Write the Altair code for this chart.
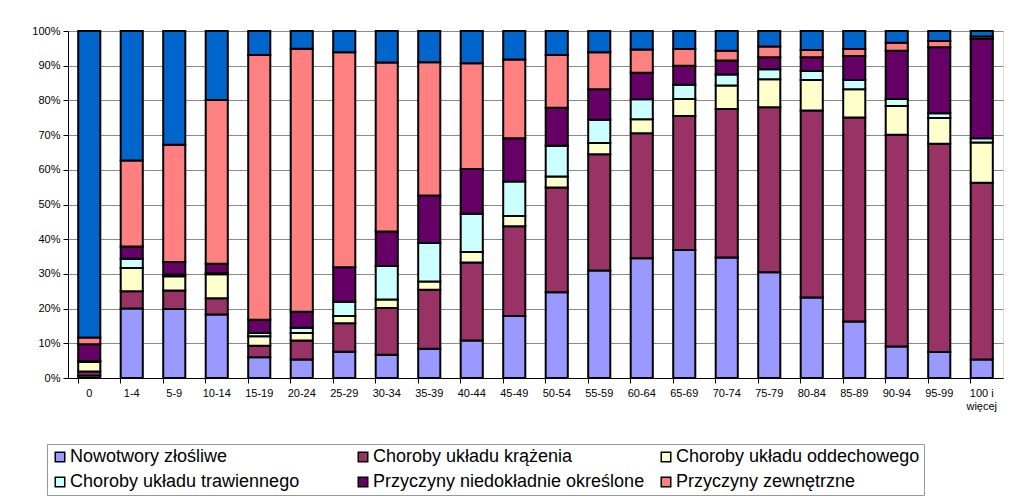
import altair as alt
import pandas as pd

categories = ["0", "1-4", "5-9", "10-14", "15-19", "20-24", "25-29", "30-34", "35-39",
              "40-44", "45-49", "50-54", "55-59", "60-64", "65-69", "70-74", "75-79",
              "80-84", "85-89", "90-94", "95-99", "100 i więcej"]

series = ["Nowotwory złośliwe", "Choroby układu krążenia", "Choroby układu oddechowego",
          "Choroby układu trawiennego", "Przyczyny niedokładnie określone",
          "Przyczyny zewnętrzne", "Pozostałe przyczyny"]

colors = ["#9999FF", "#993366", "#FFFFCC", "#CCFFFF", "#660066", "#FF8080", "#0066CC"]

# legend entries, listed so that the 3-column grid reads row by row like the original
legend_entries = ["Nowotwory złośliwe", "Choroby układu trawiennego",
                  "Choroby układu krążenia", "Przyczyny niedokładnie określone",
                  "Choroby układu oddechowego", "Przyczyny zewnętrzne"]

nowotwory = [0.7, 20.0, 19.9, 18.3, 6.0, 5.3, 7.6, 6.7, 8.4, 10.8, 17.9, 24.7, 31.0, 34.5,
             36.9, 34.7, 30.5, 23.2, 16.3, 9.1, 7.5, 5.3]
krazenia = [1.2, 5.0, 5.3, 4.7, 3.3, 5.5, 8.2, 13.5, 17.0, 22.5, 25.8, 30.2, 33.5, 36.0,
            38.6, 42.8, 47.5, 53.9, 58.8, 61.0, 60.0, 51.0]
oddechowy = [2.7, 6.7, 4.1, 6.9, 2.7, 2.2, 2.1, 2.4, 2.4, 3.0, 3.0, 3.2, 3.2, 4.1,
             4.9, 6.8, 8.1, 8.8, 8.1, 8.3, 7.4, 11.6]
trawienny = [0.3, 2.7, 0.5, 0.3, 1.0, 1.5, 4.1, 9.7, 11.1, 11.0, 9.9, 8.8, 6.7, 5.7,
             4.1, 3.2, 2.9, 2.6, 2.7, 2.0, 1.4, 1.2]
niedokladne = [4.8, 3.5, 3.6, 2.7, 3.8, 4.6, 9.9, 9.9, 13.7, 12.9, 12.5, 11.0, 8.8, 7.7,
               5.5, 4.0, 3.4, 3.9, 6.9, 13.9, 19.0, 28.6]
zewnetrzne = [2.0, 24.8, 33.8, 47.2, 76.3, 75.8, 62.0, 48.7, 38.4, 30.5, 22.7, 15.2, 10.7, 6.7,
              4.8, 2.8, 3.1, 2.1, 2.0, 2.3, 1.8, 0.7]
pozostale = [88.3, 37.3, 32.8, 19.9, 6.9, 5.1, 6.1, 9.1, 9.0, 9.3, 8.2, 6.9, 6.1, 5.3,
             5.2, 5.7, 4.5, 5.5, 5.2, 3.4, 2.9, 1.6]

all_values = [nowotwory, krazenia, oddechowy, trawienny, niedokladne, zewnetrzne, pozostale]

rows = []
for si, (name, vals) in enumerate(zip(series, all_values)):
    for cat, v in zip(categories, vals):
        rows.append({"grupa": cat, "przyczyna": name, "udzial": v / 100.0, "kolejnosc": si})
df = pd.DataFrame(rows)

font = "Liberation Sans"

chart = alt.Chart(df).mark_bar(stroke="black", strokeWidth=2).encode(
    x=alt.X("grupa:N", sort=categories, title=None,
            scale=alt.Scale(paddingInner=0.48, paddingOuter=0.24),
            axis=alt.Axis(labelAngle=0, bandPosition=0, tickColor="black", domainColor="black",
                          tickSize=5, labelPadding=4, labelFontSize=11, labelColor="black",
                          labelFont=font, labelLineHeight=13,
                          labelExpr="datum.value == '100 i więcej' ? ['100 i', 'więcej'] : datum.value")),
    y=alt.Y("udzial:Q", stack="zero", title=None,
            scale=alt.Scale(domain=[0, 1], nice=False),
            axis=alt.Axis(format=".0%", values=[i / 10 for i in range(11)], tickColor="black",
                          domainColor="black", tickSize=5, labelPadding=3, labelFontSize=11,
                          labelColor="black", labelFont=font, gridColor="#8a8a8a",
                          gridWidth=1)),
    color=alt.Color("przyczyna:N",
                    scale=alt.Scale(domain=series, range=colors),
                    legend=alt.Legend(orient="none", legendX=-21, legendY=413, columns=3,
                                      gridAlign="all", values=legend_entries, title=None,
                                      strokeColor="#999999", fillColor="white", padding=4,
                                      rowPadding=7, columnPadding=12, symbolType="square",
                                      symbolSize=90, symbolStrokeColor="black",
                                      symbolStrokeWidth=1.5, labelFontSize=18,
                                      labelFont=font, labelColor="black", labelOffset=1,
                                      labelLimit=400)),
    order=alt.Order("kolejnosc:Q", sort="ascending"),
).properties(
    width=935, height=347,
    autosize=alt.AutoSizeParams(type="none"),
    padding={"left": 60, "top": 23, "right": 10, "bottom": 120},
).configure_view(
    stroke="#8a8a8a", strokeWidth=1
).configure(background="white")

chart.save("out.html", embed_options={"renderer": "svg", "actions": False})
